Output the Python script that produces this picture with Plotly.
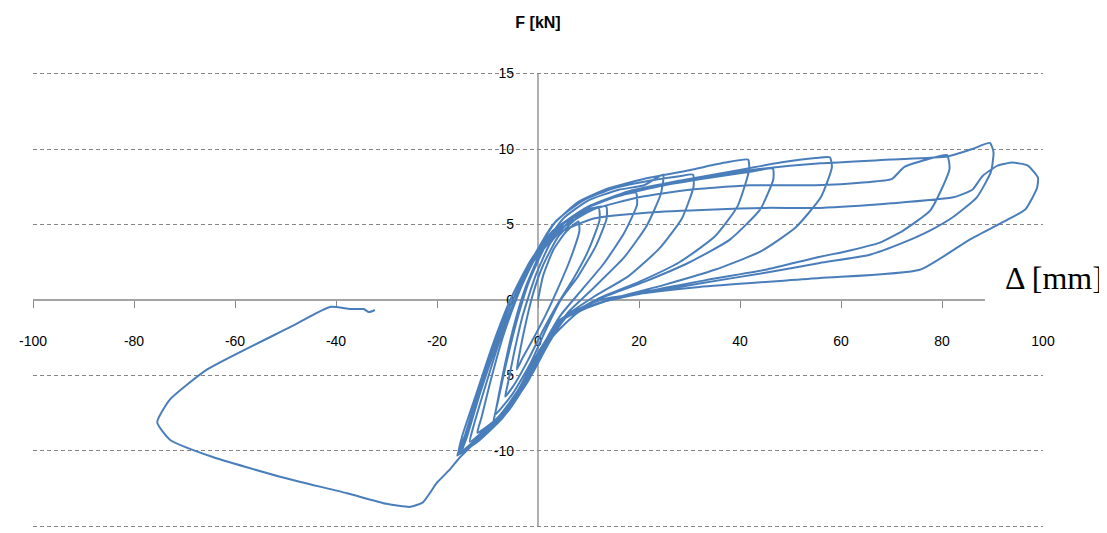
import plotly.graph_objects as go

# ---------------- data ----------------
x_ticks = [-100, -80, -60, -40, -20, 0, 20, 40, 60, 80, 100]
x_tick_text = ["-100", "-80", "-60", "-40", "-20", "0", "20", "40", "60", "80", "100"]
x_minor_ticks = [-100, -80, -60, -40, -20, 0, 20, 40, 60, 80]
y_ticks = [-15, -10, -5, 0, 5, 10, 15]
y_tick_text = ["-15", "-10", "-5", "0", "5", "10", "15"]
y_grid = [-15, -10, -5, 5, 10, 15]

# small cycles (displacement mm, force kN)
disp_small = [0, 1, 3, 5.5, 8, 8.2, 6.5, 4, 1.5, -1, -3, -4.2,
              -3.8, -2.6, -1, 1, 4, 8, 12, 12.2, 10, 7, 4, 1, -2, -4.5, -6.5,
              -6, -4.8, -3, -0.5, 2.5, 6.5, 10, 13.5, 13.6, 11.5, 8, 4.5, 1.5, -1.5, -5, -8.5,
              -8, -6.5, -4.3, -1.8, 1.5, 5.5, 10, 15, 19.4, 19.6, 17, 13, 8.5, 4.5, 1, -2.5, -6, -9,
              -8.4, -7, -5, -2.5, 1, 5, 10, 16, 21, 24.8, 24.3, 21.5, 17, 11, 6, 2, -1.5, -5, -9, -12]
force_small = [0, 1.6, 3.3, 4.5, 5.2, 4.6, 2.8, 0.8, -1, -2.6, -3.8, -4.6,
               -3.8, -1.8, 0.4, 2.3, 4.2, 5.5, 6.1, 5.3, 3.3, 1.4, -0.2, -2, -4, -5.5, -6.4,
               -5.6, -3.6, -1, 1.6, 3.8, 5.3, 6, 6.2, 5.4, 3.6, 1.6, 0, -2, -4.2, -6.2, -7.6,
               -6.8, -4.5, -1.5, 1.2, 3.6, 5.2, 6.2, 6.8, 7.1, 6.3, 4.4, 2.4, 0.6, -1, -3, -5.3, -7.2, -8.4,
               -7.4, -5, -2, 0.8, 3.5, 5.4, 6.6, 7.3, 7.6, 8.3, 7, 4.9, 2.8, 0.8, -0.8, -2.6, -4.8, -6.8, -8.1, -8.8]

# medium cycles
disp_mid = [-11.2, -9.5, -7, -4, -0.5, 3.5, 9, 15, 22, 28, 30.7, 30.8, 28.5, 24, 18, 11, 5, 1, -3, -8, -13.5,
            -12.8, -10.5, -7.5, -4.5, -1, 3, 8, 14, 22, 30, 37, 41.6, 41.8, 39.5, 35, 28, 20, 12, 5, 1, -3, -8, -12.5, -15.8,
            -15, -12.5, -9, -5.5, -1.5, 3, 9, 16, 25, 34, 42, 46.5, 46.6, 44, 38, 30, 21, 13, 6, 2, -2, -7, -11.5, -15,
            -14, -11.5, -8, -4.5, -0.5, 4, 10, 18, 28, 38, 48, 55, 57.8, 58.2, 56, 51, 44, 35, 25, 15, 8, 3, -1, -6, -11, -16]
force_mid = [-7.8, -5.5, -2.5, 0.3, 3, 5.2, 6.6, 7.4, 7.9, 8.2, 8.3, 7.5, 5.4, 3.4, 1.6, 0.2, -1.2, -3.2, -5.6, -7.8, -9.4,
             -8.4, -5.8, -2.6, 0, 2.8, 5, 6.5, 7.4, 8.1, 8.6, 9.1, 9.3, 8.6, 6.2, 4.2, 2.5, 1.2, 0.1, -1.3, -3.3, -5.8, -8, -9.3, -10.2,
             -9, -6.5, -3, 0, 2.6, 4.6, 6, 6.9, 7.6, 8.1, 8.5, 8.7, 8, 6, 4, 2.5, 1.2, 0.2, -1, -2.8, -5.4, -7.8, -9.2, -10,
             -9, -6.2, -2.8, 0, 2.8, 4.8, 6.2, 7.2, 7.9, 8.5, 9.1, 9.4, 9.45, 8.8, 6.8, 4.8, 3.2, 2, 1, 0.1, -0.8, -2.4, -4.8, -7.4, -9.1, -10.3]

# large cycles
disp_large = [-14.5, -12, -8.5, -5, -1, 4, 11, 20, 30, 42, 55, 65, 70, 72.5, 77, 81, 81.5, 80, 77.6, 72.3, 67.7, 62, 55, 45, 33, 22, 13, 6, 2, -2, -7, -12, -15.5,
              -14.5, -12, -8.5, -5, -1, 4, 11, 20, 30, 42, 56, 70, 81, 86, 89.5, 90.2, 89.7, 86.9, 82.2, 77.6, 72.3, 65.7, 55.8, 45, 32, 20, 12, 5, 1, -3, -8, -12.5, -16,
              -14.5, -12, -8.5, -5, -1, 4, 11, 22, 35, 45, 56, 70, 82.2, 86, 88, 91, 94, 97, 99, 98.8, 96.5, 92.9, 85.5, 75.6, 55.8, 32, 12.3, 4.4]
force_large = [-9.2, -6.5, -3, 0, 2.6, 4.6, 6, 6.8, 7.3, 7.6, 7.6, 7.8, 8, 8.8, 9.3, 9.6, 8.7, 7.4, 5.9, 4.6, 3.8, 3.3, 2.8, 2, 1.3, 0.6, -0.1, -1, -2.8, -5.3, -7.8, -9.4, -10.1,
               -9.2, -6.5, -3, 0, 2.7, 4.8, 6.3, 7.3, 8, 8.6, 9.05, 9.3, 9.5, 10, 10.4, 9.8, 8.5, 6.8, 5.5, 4.6, 3.8, 3, 2.45, 1.8, 1.1, 0.4, -0.2, -1.3, -3.2, -5.8, -8, -9.4, -10.3,
               -9, -6.3, -2.8, 0, 2.5, 4.4, 5.4, 5.8, 6, 6.1, 6.1, 6.4, 6.8, 7.3, 8.2, 8.9, 9.1, 8.9, 8.1, 7.4, 6, 5.3, 4, 2, 1.45, 0.86, 0, -1.3]

# final large negative excursion
disp_final = [0, -4, -9, -13, -15.4, -17.4, -20, -22.8, -25.3, -30, -37.8, -51.1, -64.4, -72.9, -75.4,
              -72.9, -65.5, -49.1, -41.2, -37.2, -34.5, -33.5, -32.3]
force_final = [-3.5, -6, -8.3, -9.6, -10.4, -11.2, -12.1, -13.4, -13.7, -13.5, -12.8, -11.7, -10.4, -9.25, -8.1,
               -6.6, -4.6, -1.8, -0.46, -0.6, -0.6, -0.8, -0.66]

disp = disp_small + disp_mid + disp_large + disp_final
force = force_small + force_mid + force_large + force_final

# ---------------- figure ----------------
# (the page body has an 8 px default margin, so the figure is drawn 8 px smaller / shifted)
AX = "#868686"
W, H = 1099, 525
fig = go.Figure()
fig.add_trace(go.Scatter(
    x=disp, y=force, mode="lines",
    line=dict(color="#4a7ebb", width=2, shape="spline", smoothing=0.5),
    showlegend=False, hoverinfo="skip"))

fig.update_layout(
    width=W, height=H,
    margin=dict(l=25, r=64, t=64, b=5),
    paper_bgcolor="white", plot_bgcolor="white",
    font=dict(family="Liberation Sans, Arial, sans-serif", size=14, color="black"),
    title=dict(text="<b>F [kN]</b>", x=530 / W, xanchor="center", y=1 - 14 / H, yanchor="middle",
               font=dict(size=16, color="black")),
    xaxis=dict(range=[-100, 100], anchor="free", position=0.5, showgrid=False, zeroline=False,
               showline=False, tickmode="array", tickvals=x_ticks, ticktext=x_tick_text,
               ticks="", ticklabelstandoff=31, automargin=False,
               minor=dict(tickmode="array", tickvals=x_minor_ticks, ticks="outside", ticklen=7,
                          tickcolor=AX, tickwidth=1.3, showgrid=False),
               layer="below traces"),
    yaxis=dict(range=[-15.1, 15.1], anchor="free", position=0.5, showgrid=False, zeroline=False,
               showline=False, automargin=False,
               tickmode="array", tickvals=y_ticks, ticktext=y_tick_text, ticks="",
               ticklabelstandoff=24,
               minor=dict(tickmode="array", tickvals=y_grid, ticks="", showgrid=True,
                          gridcolor=AX, griddash="4px,3px", gridwidth=1.3),
               layer="below traces"),
    shapes=[dict(type="line", xref="x", yref="y", x0=-100, x1=88.5, y0=0, y1=0,
                 line=dict(color=AX, width=1.3), layer="below"),
            dict(type="line", xref="x", yref="y", x0=0, x1=0, y0=-15, y1=15,
                 line=dict(color=AX, width=1.3), layer="below")],
    annotations=[dict(text="Δ [mm]", xref="paper", yref="paper",
                      x=(1003 - 33) / 1010, y=0.549,
                      xanchor="left", yanchor="middle", showarrow=False,
                      font=dict(family="Liberation Serif, Times New Roman, serif", size=32, color="black"))],
)

fig.write_html("out.html")
